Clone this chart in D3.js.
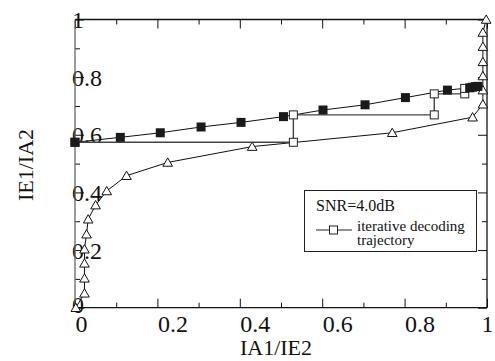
<!DOCTYPE html>
<html>
<head>
<meta charset="utf-8">
<script src="https://cdn.jsdelivr.net/npm/d3@7"></script>
<style>
  html, body { margin: 0; padding: 0; background: #fff; }
  svg { display: block; }
  text { font-family: "Liberation Serif", "Times New Roman", serif; fill: #111; }
</style>
</head>
<body>
<svg id="chart" width="495" height="361"></svg>
<script>
// ---- data ----
// Decoder 1 EXIT curve (filled squares): IA1 -> IE1
const curve1X = [0, 0.11, 0.207, 0.306, 0.403, 0.506, 0.602, 0.704, 0.802, 0.904, 0.958, 0.965, 0.972, 0.978];
const curve1Y = [0.574, 0.591, 0.607, 0.627, 0.643, 0.663, 0.686, 0.704, 0.729, 0.755, 0.763, 0.765, 0.767, 0.768];
// Decoder 2 EXIT curve (open triangles), axes swapped: IE2 on x, IA2 on y
const curve2X = [0.002, 0.023, 0.023, 0.023, 0.023, 0.028, 0.032, 0.05, 0.077, 0.125, 0.225, 0.43, 0.77, 0.965, 0.99, 0.99, 0.99, 0.99, 0.99, 0.99, 0.998];
const curve2Y = [0, 0.05, 0.102, 0.154, 0.203, 0.255, 0.307, 0.356, 0.405, 0.458, 0.504, 0.559, 0.607, 0.661, 0.706, 0.755, 0.804, 0.853, 0.906, 0.955, 1.0];
// Iterative decoding trajectory (open squares)
const trajX = [0, 0.53, 0.53, 0.872, 0.872, 0.946, 0.946];
const trajY = [0.574, 0.574, 0.669, 0.669, 0.742, 0.742, 0.761];
// ticks
const majorTicks = [0, 0.2, 0.4, 0.6, 0.8, 1];
const minorTicks = [0.1, 0.3, 0.5, 0.7, 0.9];
const xTitle = "IA1/IE2";
const yTitle = "IE1/IA2";
const legendTitle = "SNR=4.0dB";
const legendLabel = ["iterative decoding", "trajectory"];

// ---- layout ----
const svg = d3.select("#chart");
const L = 75, R = 487, T = 19.5, B = 307.7;
const x = d3.scaleLinear().domain([0, 1]).range([L, R]);
const y = d3.scaleLinear().domain([0, 1]).range([B, T]);
const fmt = d => d === 0 ? "0" : d === 1 ? "1" : d3.format(".1f")(d);

svg.append("rect").attr("width", 495).attr("height", 361).attr("fill", "#fff");

function styleAxis(g) {
  g.select(".domain").remove();
  g.attr("font-family", null);
  g.selectAll(".tick line").attr("stroke", "#111").attr("stroke-width", 1);
}

// bottom axis (major with labels, minor without)
const gb = svg.append("g").attr("transform", `translate(0,${B})`)
  .call(d3.axisBottom(x).tickValues(majorTicks).tickSize(-9).tickFormat(fmt));
styleAxis(gb);
gb.selectAll(".tick text").attr("font-size", 24).attr("text-anchor", "start")
  .attr("x", d => d === 1 ? -6 : 0).attr("y", 24).attr("dy", 0);
const gbm = svg.append("g").attr("transform", `translate(0,${B})`)
  .call(d3.axisBottom(x).tickValues(minorTicks).tickSize(-5).tickFormat(""));
styleAxis(gbm);
// top axis
const gt = svg.append("g").attr("transform", `translate(0,${T})`)
  .call(d3.axisTop(x).tickValues(majorTicks).tickSize(-9).tickFormat(""));
styleAxis(gt);
const gtm = svg.append("g").attr("transform", `translate(0,${T})`)
  .call(d3.axisTop(x).tickValues(minorTicks).tickSize(-5).tickFormat(""));
styleAxis(gtm);
// left axis
const gl = svg.append("g").attr("transform", `translate(${L},0)`)
  .call(d3.axisLeft(y).tickValues(majorTicks).tickSize(-9).tickFormat(fmt));
styleAxis(gl);
gl.selectAll(".tick text").attr("font-size", 24).attr("text-anchor", "start")
  .attr("x", -3).attr("dy", d => d === 0 ? "0.2em" : "0.34em");
const glm = svg.append("g").attr("transform", `translate(${L},0)`)
  .call(d3.axisLeft(y).tickValues(minorTicks).tickSize(-5).tickFormat(""));
styleAxis(glm);
// right axis
const gr = svg.append("g").attr("transform", `translate(${R},0)`)
  .call(d3.axisRight(y).tickValues(majorTicks).tickSize(-9).tickFormat(""));
styleAxis(gr);
const grm = svg.append("g").attr("transform", `translate(${R},0)`)
  .call(d3.axisRight(y).tickValues(minorTicks).tickSize(-5).tickFormat(""));
styleAxis(grm);

// frame
svg.append("line").attr("x1", L).attr("x2", R).attr("y1", T).attr("y2", T).attr("stroke", "#111").attr("stroke-width", 1.3);
svg.append("line").attr("x1", L).attr("x2", R).attr("y1", B).attr("y2", B).attr("stroke", "#111").attr("stroke-width", 1.3);
svg.append("line").attr("x1", L).attr("x2", L).attr("y1", T).attr("y2", B).attr("stroke", "#666").attr("stroke-width", 1.3);
svg.append("line").attr("x1", R).attr("x2", R).attr("y1", T).attr("y2", B).attr("stroke", "#111").attr("stroke-width", 1.3);

// axis titles
svg.append("text").attr("x", 276).attr("y", 355).attr("text-anchor", "middle")
  .attr("font-size", 22).text(xTitle);
svg.append("text").attr("transform", "translate(33,165) rotate(-90)").attr("text-anchor", "middle")
  .attr("font-size", 22).text(yTitle);

const line = d3.line().x(d => x(d[0])).y(d => y(d[1]));
const c1 = curve1X.map((v, i) => [v, curve1Y[i]]);
const c2 = curve2X.map((v, i) => [v, curve2Y[i]]);
const tr = trajX.map((v, i) => [v, trajY[i]]);

// triangle curve
svg.append("path").datum(c2).attr("d", line).attr("fill", "none").attr("stroke", "#111").attr("stroke-width", 1);
const tri = d3.symbol().type(d3.symbolTriangle).size(40);
svg.append("g").selectAll("path").data(c2).join("path")
  .attr("d", tri).attr("transform", d => `translate(${x(d[0])},${y(d[1]) + 1})`)
  .attr("fill", "#fff").attr("stroke", "#111").attr("stroke-width", 1);

// filled-square curve
svg.append("path").datum(c1).attr("d", line).attr("fill", "none").attr("stroke", "#111").attr("stroke-width", 1);

// trajectory
svg.append("path").datum(tr).attr("d", line).attr("fill", "none").attr("stroke", "#444").attr("stroke-width", 1.4);
svg.append("g").selectAll("rect").data(tr).join("rect")
  .attr("x", d => x(d[0]) - 4).attr("y", d => y(d[1]) - 4).attr("width", 8).attr("height", 8)
  .attr("fill", "#fff").attr("stroke", "#222").attr("stroke-width", 1);

svg.append("g").selectAll("rect").data(c1).join("rect")
  .attr("x", d => x(d[0]) - 4.5).attr("y", d => y(d[1]) - 4.5).attr("width", 9).attr("height", 9)
  .attr("fill", "#1a1a1a");

// legend
const lg = svg.append("g");
lg.append("rect").attr("x", 304.5).attr("y", 190.5).attr("width", 172).attr("height", 61)
  .attr("fill", "#fff").attr("stroke", "#222").attr("stroke-width", 1);
lg.append("text").attr("x", 316).attr("y", 211).attr("font-size", 16).text(legendTitle);
lg.append("line").attr("x1", 316).attr("x2", 352).attr("y1", 230).attr("y2", 230).attr("stroke", "#222").attr("stroke-width", 1.2);
lg.append("rect").attr("x", 329.5).attr("y", 226).attr("width", 8).attr("height", 8)
  .attr("fill", "#fff").attr("stroke", "#222").attr("stroke-width", 1);
lg.append("text").attr("x", 357).attr("y", 230.5).attr("font-size", 15).text(legendLabel[0]);
lg.append("text").attr("x", 357).attr("y", 244.5).attr("font-size", 15).text(legendLabel[1]);
</script>
</body>
</html>
